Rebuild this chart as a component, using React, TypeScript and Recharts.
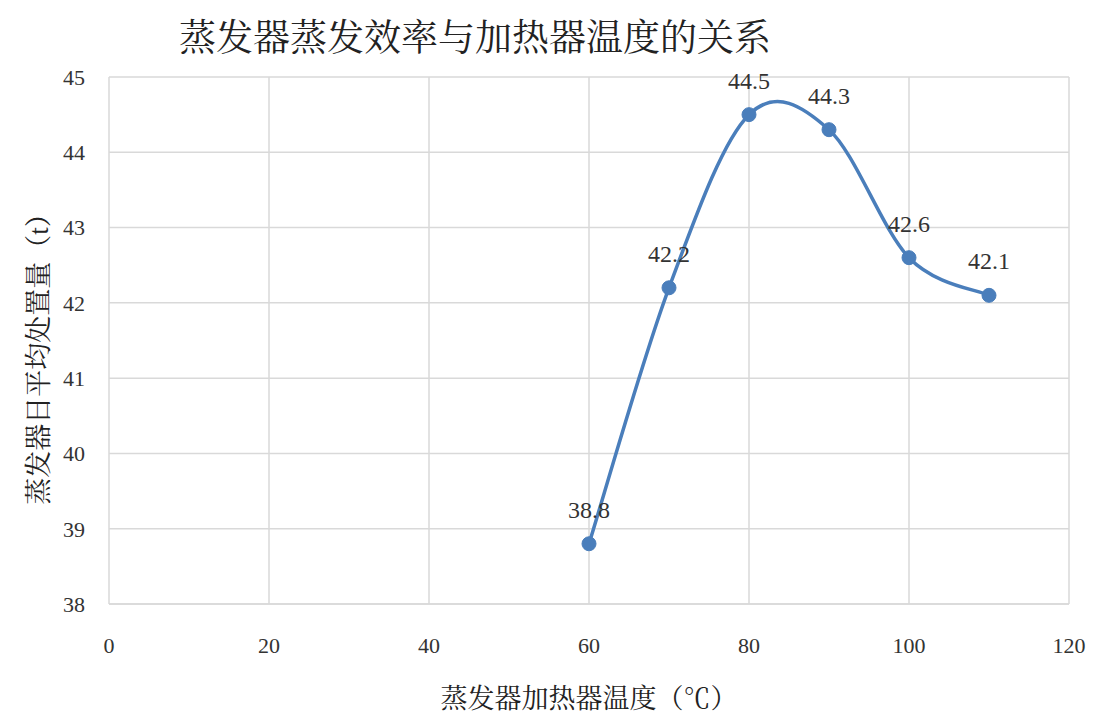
import { LineChart, Line, XAxis, YAxis, CartesianGrid, LabelList, Label } from "recharts";

const temps = [60, 70, 80, 90, 100, 110];
const amounts = [38.8, 42.2, 44.5, 44.3, 42.6, 42.1];
const xTicks = [0, 20, 40, 60, 80, 100, 120];
const yTicks = [38, 39, 40, 41, 42, 43, 44, 45];

const data = temps.map((t, i) => ({ t, v: amounts[i] }));

const font = '"Liberation Serif", "Noto Serif CJK SC", "Noto Sans CJK SC", serif';
const blue = "#4a7ebb";

// Excel-style smoothed line: Catmull-Rom through the points (cardinal, tension 0)
function excelSmooth(context: any) {
  let pts: [number, number][] = [];
  return {
    areaStart() {},
    areaEnd() {},
    lineStart() {
      pts = [];
    },
    lineEnd() {
      if (!pts.length) return;
      context.moveTo(pts[0][0], pts[0][1]);
      for (let i = 0; i < pts.length - 1; i++) {
        const p0 = pts[i - 1] || pts[i];
        const p1 = pts[i];
        const p2 = pts[i + 1];
        const p3 = pts[i + 2] || p2;
        const c1x = p1[0] + (p2[0] - p0[0]) / 6;
        const c1y = p1[1] + (p2[1] - p0[1]) / 6;
        const c2x = p2[0] - (p3[0] - p1[0]) / 6;
        const c2y = p2[1] - (p3[1] - p1[1]) / 6;
        context.bezierCurveTo(c1x, c1y, c2x, c2y, p2[0], p2[1]);
      }
    },
    point(x: number, y: number) {
      pts.push([+x, +y]);
    },
  };
}

export default function App() {
  return (
    <div style={{ position: "absolute", left: 0, top: 0, width: 1095, height: 721, background: "#fff", fontFamily: font }}>
      <div style={{ position: "absolute", left: 0, width: 950, top: 8, textAlign: "center", fontSize: 37, color: "#222" }}>
        蒸发器蒸发效率与加热器温度的关系
      </div>
      <LineChart width={1095} height={721} data={data} margin={{ top: 77, right: 26, bottom: 0, left: 0 }}>
        <CartesianGrid stroke="#d9d9d9" strokeWidth={1.5} verticalValues={xTicks} horizontalValues={yTicks} />
        <XAxis
          dataKey="t"
          type="number"
          domain={[0, 120]}
          ticks={xTicks}
          tickLine={false}
          axisLine={{ stroke: "#d9d9d9", strokeWidth: 1.5 }}
          tick={{ fontSize: 22, fill: "#333", fontFamily: font }}
          tickMargin={27}
          height={117}
        >
          <Label value="蒸发器加热器温度（℃）" position="insideBottom" offset={13} style={{ fontSize: 27, fill: "#222", fontFamily: font }} />
        </XAxis>
        <YAxis
          type="number"
          domain={[38, 45]}
          ticks={yTicks}
          tickLine={false}
          axisLine={false}
          tick={{ fontSize: 22, fill: "#333", fontFamily: font }}
          tickMargin={18}
          width={109}
        >
          <Label value="蒸发器日平均处置量（t）" angle={-90} position="insideLeft" offset={38} dy={12} style={{ fontSize: 27, fill: "#222", fontFamily: font, textAnchor: "middle" }} />
        </YAxis>
        <Line
          dataKey="v"
          type={excelSmooth as any}
          stroke={blue}
          strokeWidth={3.5}
          dot={{ r: 7, fill: blue, stroke: blue, strokeWidth: 1 }}
          isAnimationActive={false}
        >
          <LabelList dataKey="v" position="top" offset={26} style={{ fontSize: 24, fill: "#333", fontFamily: font }} />
        </Line>
      </LineChart>
    </div>
  );
}
